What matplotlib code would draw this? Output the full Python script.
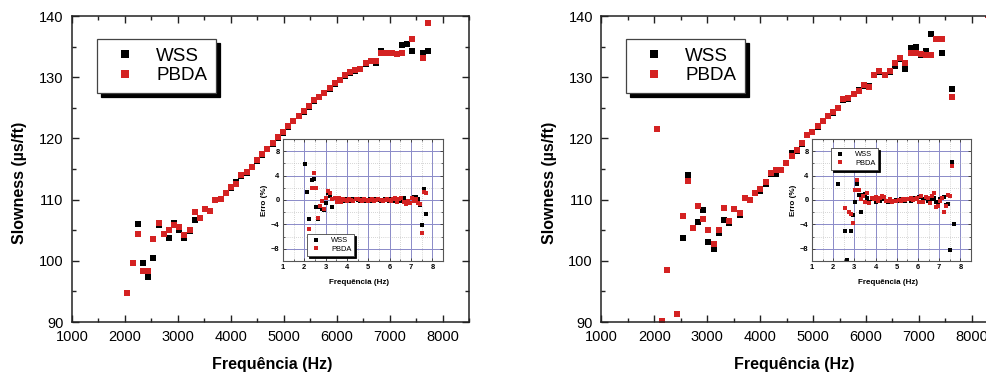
import numpy as np
import matplotlib
matplotlib.use('Agg')
import matplotlib.pyplot as plt
from matplotlib.ticker import MultipleLocator

plt.rcParams['font.family'] = ['Liberation Sans', 'DejaVu Sans']

nan = np.nan

# ---------------- data ----------------
freq = [2045, 2145, 2240, 2340, 2435, 2535, 2635, 2735, 2830, 2930,
        3025, 3125, 3225, 3320, 3420, 3515, 3615, 3710, 3810, 3910,
        4005, 4105, 4200, 4300, 4400, 4495, 4595, 4690, 4790, 4885,
        4985, 5085, 5180, 5280, 5375, 5475, 5575, 5670, 5770, 5865,
        5965, 6060, 6160, 6255, 6355, 6450, 6550, 6650, 6745, 6845,
        6940, 7040, 7135, 7235, 7330, 7430, 7525, 7625, 7720]

left_pbda = [94.7, 99.6, 104.4, 98.4, 98.4, 103.6, 106.2, 104.4, 105.1, 105.8,
             105.5, 104.2, 105.1, 108.0, 107.0, 108.4, 108.2, 109.9, 110.1, 111.1,
             112.0, 112.5, 114.0, 114.5, 115.4, 116.4, 117.4, 118.3, 119.2, 120.2,
             121.0, 122.0, 122.9, 123.7, 124.4, 125.3, 126.2, 126.8, 127.5, 128.2,
             129.0, 129.6, 130.3, 130.8, 131.1, 131.4, 132.3, 132.7, 132.6, 134.0,
             133.9, 133.9, 133.8, 133.9, nan, 136.2, nan, 133.2, 138.8]
left_wss = [94.7, 99.6, 106.0, 99.7, 97.4, 100.4, 105.8, 104.4, 103.8, 106.2,
            105.0, 103.7, 104.9, 106.7, 107.0, 108.4, 108.2, 109.9, 110.1, 111.0,
            111.9, 112.9, 113.9, 114.4, 115.3, 116.3, 117.3, 118.2, 119.1, 120.1,
            120.9, 121.9, 122.8, 123.6, 124.3, 125.2, 126.1, 126.7, 127.4, 128.1,
            128.9, 129.5, 130.2, 130.7, 131.0, 131.3, 132.2, 132.6, 132.4, 134.3,
            133.9, 133.9, 133.8, 135.2, 135.5, 134.3, nan, 133.9, 134.2]

freq_right = freq + [8300]
right_pbda = [121.5, 90.1, 98.5, nan, 91.3, 107.4, 113.0, 105.3, 108.9, 106.8,
              105.1, 102.7, 105.1, 108.7, 106.5, 108.5, 107.8, 110.2, 110.0, 111.1,
              111.8, 112.9, 114.3, 114.8, 114.9, 116.0, 117.1, 118.1, 119.2, 120.6,
              121.1, 122.0, 122.9, 123.7, 124.3, 125.0, 126.4, 126.6, 127.3, 127.8,
              128.7, 128.4, 130.4, 131.0, 130.4, 131.0, 132.4, 133.1, 132.4, 133.9,
              134.0, 133.8, 133.7, 133.7, 136.3, 136.2, nan, 126.8, nan, 140.2]
right_wss = [nan, nan, nan, nan, nan, 103.7, 114.1, 105.3, 106.3, 108.3,
             103.0, 102.0, 104.5, 106.6, 106.1, 108.5, 107.5, 110.3, 110.0, 111.1,
             111.4, 112.5, 114.2, 114.2, 114.8, 115.9, 117.6, 118.0, 119.1, 120.5,
             121.0, 121.9, 122.8, 123.6, 124.2, 124.9, 126.3, 126.5, 127.2, 127.9,
             128.6, 128.6, 130.3, 130.9, 130.3, 130.9, 131.8, 133.0, 131.3, 134.8,
             135.0, 133.7, 134.3, 137.0, 136.2, 134.0, nan, 128.1, nan, nan]

# inset errors (%)
left_err_wss = [5.9, 1.3, -3.1, 3.2, 3.5, -1.2, -3.1, -1.2, -1.4, -1.6,
                -0.5, 1.1, 0.6, -1.2, 0.3, -0.2, 0.2, -0.3, 0.1, -0.1,
                0.1, 0.0, -0.1, 0.1, 0.2, 0.0, -0.1, 0.1, 0.0, -0.1,
                0.0, 0.1, -0.1, 0.0, 0.1, 0.0, -0.1, 0.0, 0.1, 0.0,
                -0.1, 0.1, 0.2, -0.2, 0.0, 0.2, -0.1, 0.3, -0.2, -0.3,
                -0.5, 0.4, 0.5, 0.5, 0.2, -0.8, -4.1, 1.8, -2.3]
left_err_pbda = [nan, nan, -4.7, 1.9, 4.5, 1.9, -2.9, -1.0, -0.1, -1.4,
                 0.3, 1.5, 1.1, 0.2, 0.4, -0.3, 0.3, -0.4, 0.2, 0.0,
                 -0.1, 0.1, 0.0, -0.2, 0.1, 0.1, 0.0, -0.1, 0.1, 0.0,
                 -0.1, 0.0, 0.1, -0.1, 0.0, 0.1, 0.0, -0.1, 0.0, 0.1,
                 0.0, -0.2, 0.1, 0.3, -0.3, 0.1, 0.4, -0.4, -0.6, -0.2,
                 -0.5, 0.3, -0.2, 0.1, -0.5, -0.7, -5.4, 1.3, 1.1]
right_err_wss = [nan, nan, 2.7, nan, nan, -5.0, -9.9, nan, -5.0, -2.45,
                 -0.3, 2.55, 0.9, -1.9, 0.9, 1.0, 0.3, -0.3, 0.1, 0.2,
                 -0.4, 0.3, -0.2, 0.4, 0.2, -0.1, -0.3, 0.0, -0.2, -0.1,
                 0.0, -0.2, 0.1, 0.0, -0.1, 0.1, 0.2, -0.1, 0.2, 0.3,
                 0.1, 0.5, -0.3, 0.2, 0.4, -0.2, -0.4, 0.2, 0.4, -0.4,
                 -0.3, 0.1, 0.4, 0.5, -0.8, -0.7, -8.2, 6.3, -4.0]
right_err_pbda = [nan, nan, nan, nan, nan, -1.25, nan, -1.9, -2.3, -3.8,
                  1.7, 3.35, 1.6, 0.1, 0.65, -0.4, 1.1, -0.45, 0.3, 0.1,
                  0.5, -0.2, 0.3, 0.6, 0.5, -0.1, -0.2, 0.1, -0.3, -0.2,
                  -0.1, 0.0, -0.2, 0.1, 0.0, 0.2, 0.1, 0.3, 0.0, 0.2,
                  0.4, -0.3, 0.6, -0.4, 0.5, 0.3, -0.5, 0.6, 1.1, -1.1,
                  -1.0, -0.2, 0.3, -1.9, -1.0, 0.9, 0.7, 5.5, nan]

freq_khz = [f / 1000.0 for f in freq]

series_labels = ['WSS', 'PBDA']
x_label = 'Frequência (Hz)'
y_label = 'Slowness (µs/ft)'
inset_ylabel = 'Erro (%)'

RED = '#d42222'
BLACK = '#000000'

fig = plt.figure(figsize=(9.86, 3.76), dpi=100)
W, H = 986.0, 376.0


def px_rect(l, t, r, b):
    return [l / W, 1 - b / H, (r - l) / W, (b - t) / H]


def main_panel(rect, f, wss, pbda, xlab_x, leg_anchor):
    ax = fig.add_axes(rect)
    ax.plot(f, wss, 's', color=BLACK, ms=4.5, mew=0, ls='none', label=series_labels[0])
    ax.plot(f, pbda, 's', color=RED, ms=4.5, mew=0, ls='none', label=series_labels[1])
    ax.set_xlim(1000, 8500)
    ax.set_ylim(90, 140)
    ax.xaxis.set_major_locator(MultipleLocator(1000))
    ax.xaxis.set_minor_locator(MultipleLocator(500))
    ax.yaxis.set_major_locator(MultipleLocator(10))
    ax.yaxis.set_minor_locator(MultipleLocator(5))
    ax.tick_params(which='both', direction='in', top=True, right=True, color='#222222')
    ax.tick_params(which='major', length=5, width=1.0, labelsize=10.5, pad=6)
    ax.tick_params(which='minor', length=3, width=1.0)
    for s in ax.spines.values():
        s.set_linewidth(1.1)
        s.set_color('#222222')
    ax.set_xlabel(x_label, fontsize=11.5, fontweight='bold', va='center')
    ax.xaxis.set_label_coords(xlab_x, -0.1405)
    ax.set_ylabel(y_label, fontsize=11.5, fontweight='bold', va='center')
    ax.yaxis.set_label_coords(-52 / 397.0, 0.455)
    leg = ax.legend(loc='upper left', bbox_to_anchor=leg_anchor, borderaxespad=0,
                    fancybox=False, framealpha=1, edgecolor='#444444',
                    fontsize=13.5, markerscale=1.35, borderpad=0.45,
                    handlelength=2.1, handletextpad=0.6, labelspacing=0.15,
                    shadow={'color': 'black', 'alpha': 1, 'ox': 3, 'oy': -3})
    leg.get_frame().set_linewidth(0.9)
    return ax


def inset_panel(rect, fk, ew, ep, leg_loc, leg_anchor):
    ai = fig.add_axes(rect)
    ai.set_facecolor('white')
    ai.plot(fk, ew, 's', color=BLACK, ms=2.2, mew=0, ls='none', label=series_labels[0])
    ai.plot(fk, ep, 's', color=RED, ms=2.2, mew=0, ls='none', label=series_labels[1])
    ai.set_xlim(1, 8.5)
    ai.set_ylim(-10, 10)
    ai.xaxis.set_major_locator(MultipleLocator(1))
    ai.xaxis.set_minor_locator(MultipleLocator(0.5))
    ai.yaxis.set_major_locator(MultipleLocator(4))
    ai.yaxis.set_minor_locator(MultipleLocator(2))
    ai.grid(which='major', color='#8a8ac8', lw=0.7)
    ai.grid(which='minor', color='#b0b0b0', lw=0.5, ls=(0, (1, 2)))
    ai.set_axisbelow(True)
    ai.tick_params(which='both', direction='in', top=True, right=True, color='#444444')
    ai.tick_params(which='major', length=2.5, width=0.7, labelsize=5.4, pad=2.5)
    ai.tick_params(which='minor', length=1.5, width=0.6)
    for lab in ai.get_xticklabels() + ai.get_yticklabels():
        lab.set_fontweight('bold')
    for s in ai.spines.values():
        s.set_linewidth(0.8)
        s.set_color('#555555')
    ai.set_xlabel(x_label, fontsize=5.8, fontweight='bold', va='center')
    ai.xaxis.set_label_coords(0.475, -0.18)
    ai.set_ylabel(inset_ylabel, fontsize=5.8, fontweight='bold', va='center')
    ai.yaxis.set_label_coords(-0.115, 0.5)
    leg = ai.legend(loc=leg_loc, bbox_to_anchor=leg_anchor, borderaxespad=0,
                    fancybox=False, framealpha=1, edgecolor='#444444',
                    fontsize=5.4, markerscale=1.1, borderpad=0.4,
                    handlelength=1.6, handletextpad=1.2, labelspacing=0.2,
                    shadow={'color': 'black', 'alpha': 1, 'ox': 1.2, 'oy': -1.2})
    leg.get_frame().set_linewidth(0.6)
    return ai


main_panel(px_rect(72, 16, 469, 322), freq, left_wss, left_pbda, 0.504, (0.063, 0.925))
main_panel(px_rect(601.3, 16, 998.3, 322), freq_right, right_wss, right_pbda, 0.485, (0.063, 0.925))

inset_panel(px_rect(283, 139, 443, 261), freq_khz, left_err_wss, left_err_pbda,
            'lower left', (0.15, 0.041))
inset_panel(px_rect(812, 139, 971, 261), freq_khz, right_err_wss, right_err_pbda,
            'upper left', (0.12, 0.926))

fig.savefig('out.png', dpi=100, facecolor='white')
